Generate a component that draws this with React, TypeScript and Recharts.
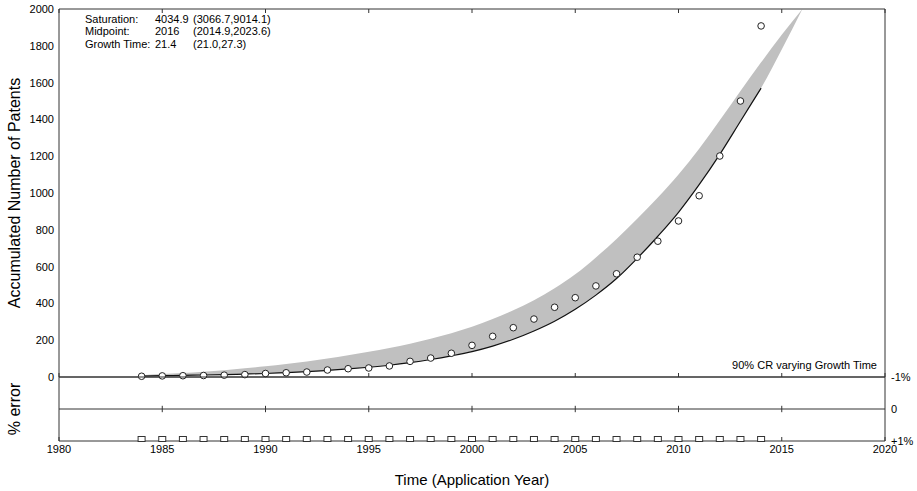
import React from 'react'
import { ComposedChart, Area, Line, Scatter, XAxis, YAxis, ReferenceLine } from 'recharts'

// years covered by the fitted band
const bandYears = [1984, 1985, 1986, 1987, 1988, 1989, 1990, 1991, 1992, 1993, 1994, 1995, 1996, 1997, 1998, 1999, 2000, 2001, 2002, 2003, 2004, 2005, 2006, 2007, 2008, 2009, 2010, 2011, 2012, 2013, 2014, 2015, 2016]
const bandLow = [5, 7, 9, 11, 13, 16, 19, 24, 29, 36, 44, 53, 64, 78, 95, 115, 138, 168, 205, 250, 303, 368, 445, 535, 645, 765, 895, 1045, 1210, 1390, 1570, 1780, 2000]
const bandHigh = [10, 16, 22, 29, 37, 47, 58, 70, 84, 100, 118, 137, 158, 181, 208, 238, 273, 315, 363, 417, 482, 558, 650, 750, 860, 975, 1100, 1240, 1395, 1555, 1710, 1860, 2000]

// observed application years
const obsYears = [1984, 1985, 1986, 1987, 1988, 1989, 1990, 1991, 1992, 1993, 1994, 1995, 1996, 1997, 1998, 1999, 2000, 2001, 2002, 2003, 2004, 2005, 2006, 2007, 2008, 2009, 2010, 2011, 2012, 2013, 2014]
const fitted = [5, 7, 9, 11, 13, 16, 19, 24, 29, 36, 44, 53, 64, 78, 95, 115, 138, 168, 205, 250, 303, 368, 445, 535, 645, 765, 895, 1045, 1210, 1390, 1570]
const observed = [4, 6, 7, 8, 10, 13, 19, 23, 27, 38, 45, 49, 60, 85, 103, 129, 172, 221, 268, 315, 379, 431, 495, 561, 651, 738, 848, 985, 1201, 1500, 1908]
const errorPct = [1, 1, 1, 1, 1, 1, 1, 1, 1, 1, 1, 1, 1, 1, 1, 1, 1, 1, 1, 1, 1, 1, 1, 1, 1, 1, 1, 1, 1, 1, 1]

const xTicks = [1980, 1985, 1990, 1995, 2000, 2005, 2010, 2015, 2020]
const yTicks = [0, 200, 400, 600, 800, 1000, 1200, 1400, 1600, 1800, 2000]
const errTicks = [-1, 0, 1]

const fitRows = bandYears.map((year, i) => ({
  year,
  band: [bandLow[i], bandHigh[i]],
  fit: i < fitted.length ? fitted[i] : null,
}))
const obsRows = obsYears.map((year, i) => ({ year, value: observed[i] }))
const errRows = obsYears.map((year, i) => ({ year, err: errorPct[i] }))

const AX = '#333'
const blank = () => ''

const Circle = (p: any) => (
  <circle cx={p.cx} cy={p.cy} r={3.3} fill="#fff" stroke="#222" strokeWidth={1} />
)
const Square = (p: any) => (
  <rect x={p.cx - 3.5} y={p.cy - 4.5} width={7} height={5} fill="#fff" stroke="#333" strokeWidth={1} />
)

const stats = [
  ['Saturation:', '4034.9', '(3066.7,9014.1)'],
  ['Midpoint:', '2016', '(2014.9,2023.6)'],
  ['Growth Time:', '21.4', '(21.0,27.3)'],
]

export default function App() {
  return (
    <div
      style={{
        position: 'absolute',
        left: 0,
        top: 0,
        width: 917,
        height: 491,
        background: '#fff',
        fontFamily: '"Liberation Sans", Arial, sans-serif',
        color: '#000',
      }}
    >
      <div style={{ position: 'absolute', left: 0, top: 0 }}>
        <ComposedChart width={917} height={390} data={fitRows} margin={{ top: 9, right: 32, bottom: 13, left: 0 }}>
          <XAxis dataKey="year" type="number" domain={[1980, 2020]} ticks={xTicks} mirror tickFormatter={blank} tickSize={4} axisLine={{ stroke: AX }} tickLine={{ stroke: AX }} />
          <XAxis xAxisId="top" orientation="top" dataKey="year" type="number" domain={[1980, 2020]} ticks={xTicks} mirror tickFormatter={blank} tickSize={4} axisLine={{ stroke: AX }} tickLine={{ stroke: AX }} />
          <YAxis type="number" domain={[0, 2000]} ticks={yTicks} width={59} tickLine={false} tickSize={0} tickMargin={5} axisLine={{ stroke: AX }} tick={{ fontSize: 11, fill: '#000' }}
            label={{ value: 'Accumulated Number of Patents', angle: -90, position: 'center', dx: -15.5, style: { fontSize: 16, fill: '#000' } }} />
          <YAxis yAxisId="leftTicks" type="number" domain={[0, 2000]} ticks={yTicks} mirror tickFormatter={blank} tickSize={4} axisLine={false} tickLine={{ stroke: AX }} />
          <YAxis yAxisId="right" orientation="right" type="number" domain={[0, 2000]} ticks={yTicks} mirror tickFormatter={blank} tickSize={4} axisLine={{ stroke: AX }} tickLine={{ stroke: AX }} />
          <Area type="monotone" dataKey="band" fill="#c0c0c0" fillOpacity={1} stroke="none" isAnimationActive={false} />
          <Line type="monotone" dataKey="fit" stroke="#111" strokeWidth={1.2} dot={false} isAnimationActive={false} />
          <Scatter data={obsRows} dataKey="value" shape={Circle} isAnimationActive={false} />
        </ComposedChart>
      </div>

      <div style={{ position: 'absolute', left: 0, top: 369 }}>
        <ComposedChart width={917} height={122} data={errRows} margin={{ top: 8, right: 0, bottom: 0, left: 0 }}>
          <XAxis dataKey="year" type="number" domain={[1980, 2020]} ticks={xTicks} height={50} tickLine={false} tickSize={0} tickMargin={4} axisLine={{ stroke: AX }} tick={{ fontSize: 11, fill: '#000' }}
            label={{ value: 'Time (Application Year)', position: 'insideBottom', offset: 6, style: { fontSize: 15, fill: '#000' } }} />
          <XAxis xAxisId="inTicks" dataKey="year" type="number" domain={[1980, 2020]} ticks={xTicks} mirror tickFormatter={blank} tickSize={4} axisLine={false} tickLine={{ stroke: AX }} />
          <XAxis xAxisId="top" orientation="top" dataKey="year" type="number" domain={[1980, 2020]} ticks={xTicks} mirror tickFormatter={blank} tick={false} tickLine={false} axisLine={{ stroke: AX }} />
          <YAxis yAxisId="left" type="number" domain={[-1, 1]} reversed width={59} tick={false} tickLine={false} axisLine={{ stroke: AX }}
            label={{ value: '% error', angle: -90, position: 'center', dx: -15.5, style: { fontSize: 16, fill: '#000' } }} />
          <YAxis yAxisId="pct" orientation="right" type="number" domain={[-1, 1]} reversed ticks={errTicks} width={32} tickLine={false} tickSize={0} tickMargin={6} axisLine={{ stroke: AX }}
            tick={{ fontSize: 11, fill: '#000' }} tickFormatter={(v: number) => (v === 0 ? '0' : v < 0 ? '-1%' : '+1%')} />
          <ReferenceLine yAxisId="pct" y={0} stroke={AX} />
          {xTicks.slice(1, -1).map((t) => (
            <ReferenceLine key={t} yAxisId="pct" segment={[{ x: t, y: -0.1 }, { x: t, y: 0.1 }]} stroke={AX} />
          ))}
          <Scatter yAxisId="pct" data={errRows} dataKey="err" shape={Square} isAnimationActive={false} />
        </ComposedChart>
      </div>

      {stats.map((row, i) => (
        <React.Fragment key={row[0]}>
          <div style={{ position: 'absolute', left: 85, top: 12.5 + i * 12.5, fontSize: 11, lineHeight: '13px' }}>{row[0]}</div>
          <div style={{ position: 'absolute', left: 155, top: 12.5 + i * 12.5, fontSize: 11, lineHeight: '13px' }}>{row[1]}</div>
          <div style={{ position: 'absolute', left: 193, top: 12.5 + i * 12.5, fontSize: 11, lineHeight: '13px' }}>{row[2]}</div>
        </React.Fragment>
      ))}
      <div style={{ position: 'absolute', right: 40, top: 358.5, fontSize: 11, lineHeight: '13px' }}>90% CR varying Growth Time</div>
    </div>
  )
}
